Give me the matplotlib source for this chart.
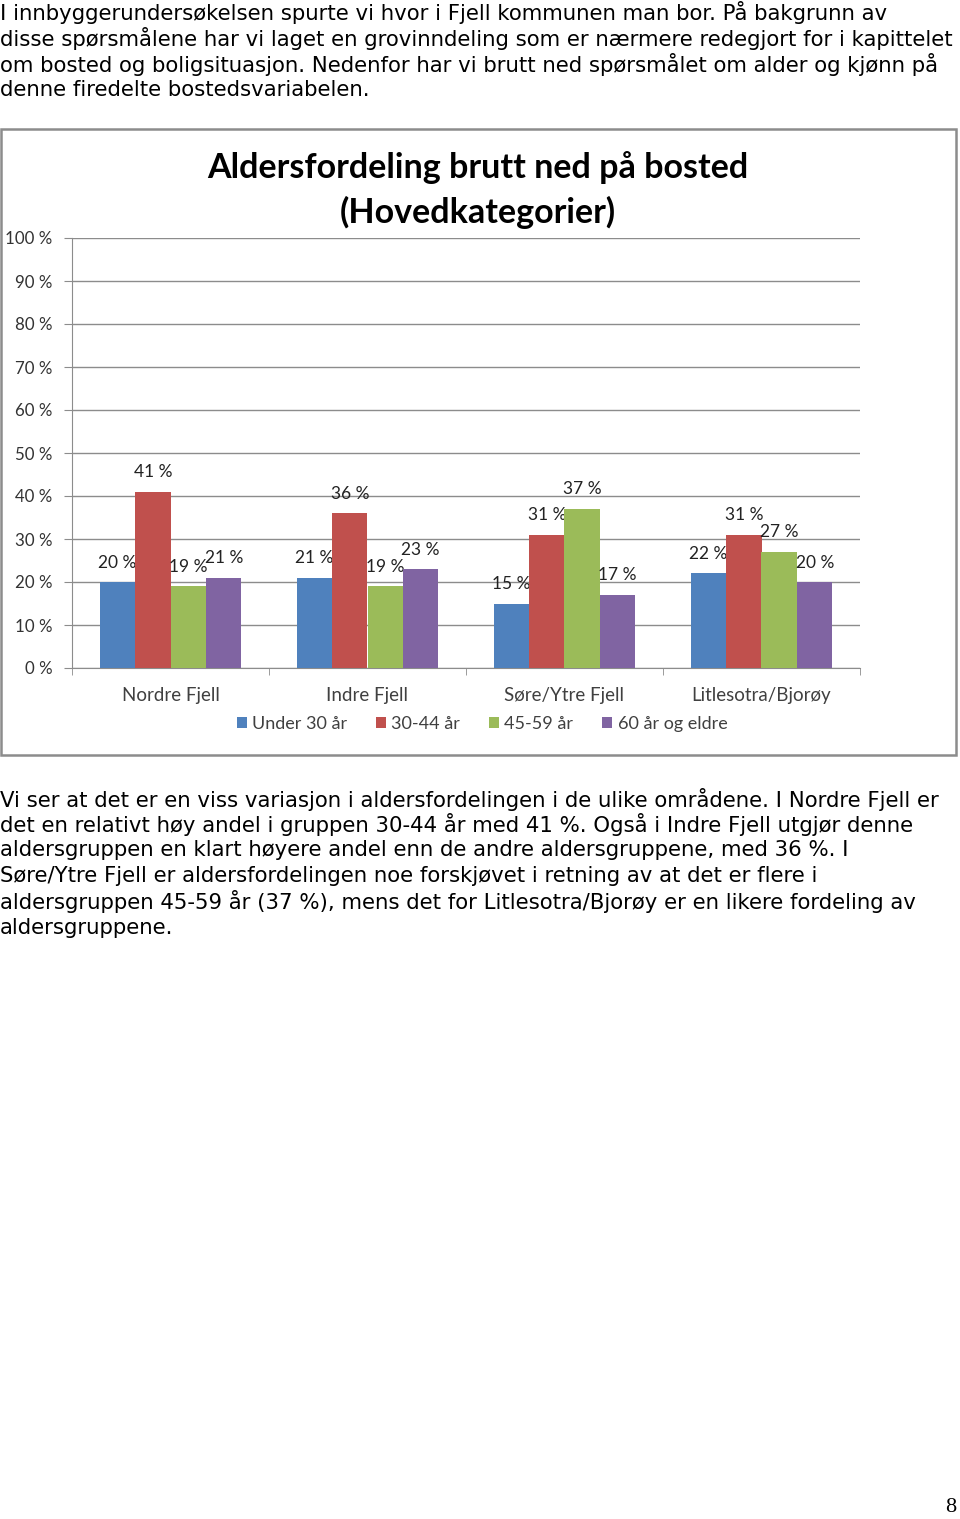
import numpy as np
import matplotlib.pyplot as plt
from matplotlib.patches import Rectangle

W, H = 960, 1519

areas = ['Nordre Fjell', 'Indre Fjell', 'Søre/Ytre Fjell', 'Litlesotra/Bjorøy']
groups = ['Under 30 år', '30-44 år', '45-59 år', '60 år og eldre']
under30 = [20, 21, 15, 22]
age30_44 = [41, 36, 31, 31]
age45_59 = [19, 19, 37, 27]
over60 = [21, 23, 17, 20]
colors = ['#4F81BD', '#C0504D', '#9BBB59', '#8064A2']

intro = [
    'I innbyggerundersøkelsen spurte vi hvor i Fjell kommunen man bor. På bakgrunn av',
    'disse spørsmålene har vi laget en grovinndeling som er nærmere redegjort for i kapittelet',
    'om bosted og boligsituasjon. Nedenfor har vi brutt ned spørsmålet om alder og kjønn på',
    'denne firedelte bostedsvariabelen.',
]
outro = [
    'Vi ser at det er en viss variasjon i aldersfordelingen i de ulike områdene. I Nordre Fjell er',
    'det en relativt høy andel i gruppen 30-44 år med 41 %. Også i Indre Fjell utgjør denne',
    'aldersgruppen en klart høyere andel enn de andre aldersgruppene, med 36 %. I',
    'Søre/Ytre Fjell er aldersfordelingen noe forskjøvet i retning av at det er flere i',
    'aldersgruppen 45-59 år (37 %), mens det for Litlesotra/Bjorøy er en likere fordeling av',
    'aldersgruppene.',
]

fig = plt.figure(figsize=(W / 100, H / 100), dpi=100)

def fx(px):
    return px / W

def fy(py):
    return 1 - py / H

# page text
for i, line in enumerate(intro):
    fig.text(fx(0), fy(13 + i * 25.7), line, fontsize=15.3, family='DejaVu Sans',
             va='center', ha='left', color='black')
for i, line in enumerate(outro):
    fig.text(fx(0), fy(799 + i * 25.7), line, fontsize=15.3, family='DejaVu Sans',
             va='center', ha='left', color='black')
fig.text(fx(956), fy(1507), '8', fontsize=16, family='Liberation Serif',
         va='center', ha='right')

# chart frame
fig.patches.append(Rectangle((fx(1), fy(755)), fx(955), (755 - 129) / H,
                             transform=fig.transFigure, fill=False,
                             edgecolor='#8c8c8c', lw=1.8))

ax = fig.add_axes([fx(72), fy(668), fx(860 - 72), (668 - 238) / H])
series = [under30, age30_44, age45_59, over60]
x = np.arange(len(areas))
w = 0.18
for i, vals in enumerate(series):
    pos = x + (i - 1.5) * w
    ax.bar(pos, vals, w, color=colors[i], label=groups[i], zorder=3)
    for p, v in zip(pos, vals):
        ax.annotate(f'{v} %', (p, v), xytext=(0, 14), textcoords='offset points',
                    ha='center', va='center', fontsize=12.5, family='Lato', color='#222222')

ax.set_xlim(-0.5, 3.5)
ax.set_ylim(0, 100)
ax.set_yticks(range(0, 101, 10))
ax.set_yticklabels([f'{t} %' for t in range(0, 101, 10)], family='Lato', fontsize=12.2,
                   color='#333333')
ax.yaxis.grid(True, color='#8c8c8c', lw=1, zorder=0)
ax.set_xticks(x)
ax.set_xticklabels(areas, family='Lato', fontsize=13.5, color='#404040')
ax.set_xticks(np.arange(-0.5, 4, 1), minor=True)
ax.tick_params(axis='x', which='major', length=0, pad=14)
ax.tick_params(axis='x', which='minor', length=5, color='#8c8c8c')
ax.tick_params(axis='y', length=6, color='#8c8c8c', pad=8)
for s in ['top', 'right']:
    ax.spines[s].set_visible(False)
ax.spines['left'].set_color('#8c8c8c')
ax.spines['bottom'].set_color('#8c8c8c')

fig.text(fx(478), fy(168), 'Aldersfordeling brutt ned på bosted', fontsize=24.5,
         family='Lato', weight='bold', ha='center', va='center')
fig.text(fx(478), fy(212), '(Hovedkategorier)', fontsize=24.5,
         family='Lato', weight='bold', ha='center', va='center')

fig.legend(loc='center', bbox_to_anchor=(fx(482), fy(724)), ncol=4, frameon=False,
           prop={'family': 'Lato', 'size': 13}, handlelength=0.55, handleheight=0.55,
           handletextpad=0.3, columnspacing=1.6, labelcolor='#404040')

fig.savefig('out.png', dpi=100)
